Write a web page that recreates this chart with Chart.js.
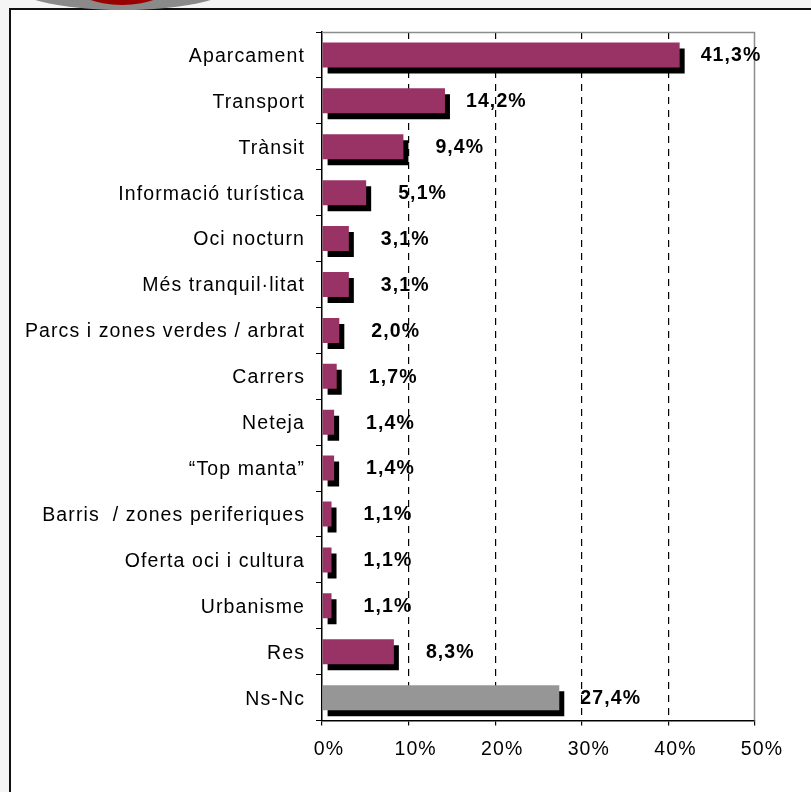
<!DOCTYPE html>
<html lang="ca">
<head>
    <meta charset="UTF-8">
    <title>Millores</title>
    <script src="https://cdn.jsdelivr.net/npm/chart.js"></script>
    <style>
        html, body { margin: 0; padding: 0; }
        body { width: 811px; height: 792px; background: #f5f5f5; position: relative; overflow: hidden; }
        .frame { position: absolute; left: 9px; top: 8px; width: 820px; height: 800px; background: #fff; border-top: 2px solid #111; border-left: 2px solid #111; }
        .logo-gray { position: absolute; left: 5px; top: -50px; width: 236px; height: 60px; border-radius: 50%; background: #8a8a8a; }
        .logo-red { position: absolute; left: 72px; top: -40px; width: 100px; height: 45px; border-radius: 50%; background: #990000; }
        #chart { position: absolute; left: 0; top: 0; }
    </style>
</head>
<body>
    <div class="frame"></div>
    <div class="logo-gray"></div>
    <div class="logo-red"></div>
    <canvas id="chart" width="811" height="792"></canvas>

    <script>
        const categories = ['Aparcament', 'Transport', 'Trànsit', 'Informació turística', 'Oci nocturn',
            'Més tranquil·litat', 'Parcs i zones verdes / arbrat', 'Carrers', 'Neteja', '“Top manta”',
            'Barris  / zones periferiques', 'Oferta oci i cultura', 'Urbanisme', 'Res', 'Ns-Nc'];
        const values = [41.3, 14.2, 9.4, 5.1, 3.1, 3.1, 2.0, 1.7, 1.4, 1.4, 1.1, 1.1, 1.1, 8.3, 27.4];
        const xTicks = [0, 10, 20, 30, 40, 50];

        const PLUM = '#993366';
        const GRAY = '#969696';
        const SPACING = '1.1px';
        const FONT_SIZE = 19.5;

        Chart.defaults.font.family = '"Liberation Sans", Arial, sans-serif';
        Chart.defaults.font.size = FONT_SIZE;
        Chart.defaults.color = '#000';

        // espaiat de lletra com a l'original
        const spacingPlugin = {
            id: 'spacing',
            beforeLayout(chart) { chart.ctx.letterSpacing = SPACING; },
            beforeDraw(chart) { chart.ctx.letterSpacing = SPACING; }
        };

        // vora gris superior i dreta de l'àrea del gràfic
        const plotBorder = {
            id: 'plotBorder',
            beforeDatasetsDraw(chart) {
                const { ctx, chartArea: a } = chart;
                ctx.save();
                ctx.strokeStyle = '#8c8c8c';
                ctx.lineWidth = 1.5;
                ctx.beginPath();
                ctx.moveTo(a.left, a.top + 0.5);
                ctx.lineTo(a.right - 0.5, a.top + 0.5);
                ctx.lineTo(a.right - 0.5, a.bottom);
                ctx.stroke();
                ctx.restore();
            }
        };

        // ombra negra de les barres
        const barShadow = {
            id: 'barShadow',
            beforeDatasetDraw(chart) {
                const ctx = chart.ctx;
                ctx.save();
                ctx.shadowColor = '#000';
                ctx.shadowBlur = 0;
                ctx.shadowOffsetX = 5;
                ctx.shadowOffsetY = 6;
            },
            afterDatasetDraw(chart) {
                chart.ctx.restore();
            }
        };

        // etiquetes de valor
        const valueLabels = {
            id: 'valueLabels',
            afterDatasetsDraw(chart) {
                const ctx = chart.ctx;
                const meta = chart.getDatasetMeta(0);
                ctx.save();
                ctx.letterSpacing = SPACING;
                ctx.font = 'bold ' + FONT_SIZE + 'px "Liberation Sans", Arial, sans-serif';
                ctx.fillStyle = '#000';
                ctx.textAlign = 'left';
                ctx.textBaseline = 'middle';
                meta.data.forEach((bar, i) => {
                    const v = values[i];
                    const gap = v >= 14 ? 21 : 32;
                    ctx.fillText(v.toFixed(1).replace('.', ',') + '%', bar.x + gap, bar.y + 1);
                });
                ctx.restore();
            }
        };

        new Chart(document.getElementById('chart'), {
            type: 'bar',
            data: {
                labels: categories,
                datasets: [{
                    data: values,
                    backgroundColor: categories.map((c, i) => i === categories.length - 1 ? GRAY : PLUM),
                    borderWidth: 0,
                    barPercentage: 0.545,
                    categoryPercentage: 1
                }]
            },
            options: {
                indexAxis: 'y',
                responsive: false,
                animation: false,
                layout: { padding: { left: 0, right: 56, top: 32, bottom: 19 } },
                plugins: {
                    legend: { display: false },
                    tooltip: { enabled: false }
                },
                scales: {
                    x: {
                        min: 0,
                        max: 50,
                        afterBuildTicks(scale) { scale.ticks = xTicks.map(v => ({ value: v })); },
                        ticks: {
                            padding: 12,
                            labelOffset: 7,
                            callback: v => v + '%'
                        },
                        grid: {
                            color: ctx => (ctx.tick && ctx.tick.value > 0 && ctx.tick.value < 50) ? '#000' : 'rgba(0,0,0,0)',
                            tickColor: '#000',
                            tickLength: 5,
                            lineWidth: 1.2
                        },
                        border: { color: '#000', width: 1.5, dash: [7, 6] }
                    },
                    y: {
                        afterFit(scale) { scale.width = 322; },
                        ticks: { padding: 11, labelOffset: 1.5 },
                        grid: {
                            drawOnChartArea: false,
                            color: '#000',
                            tickColor: '#000',
                            tickLength: 6,
                            offset: true
                        },
                        border: { color: '#000', width: 1.5 }
                    }
                }
            },
            plugins: [spacingPlugin, plotBorder, barShadow, valueLabels]
        });
    </script>
</body>
</html>
